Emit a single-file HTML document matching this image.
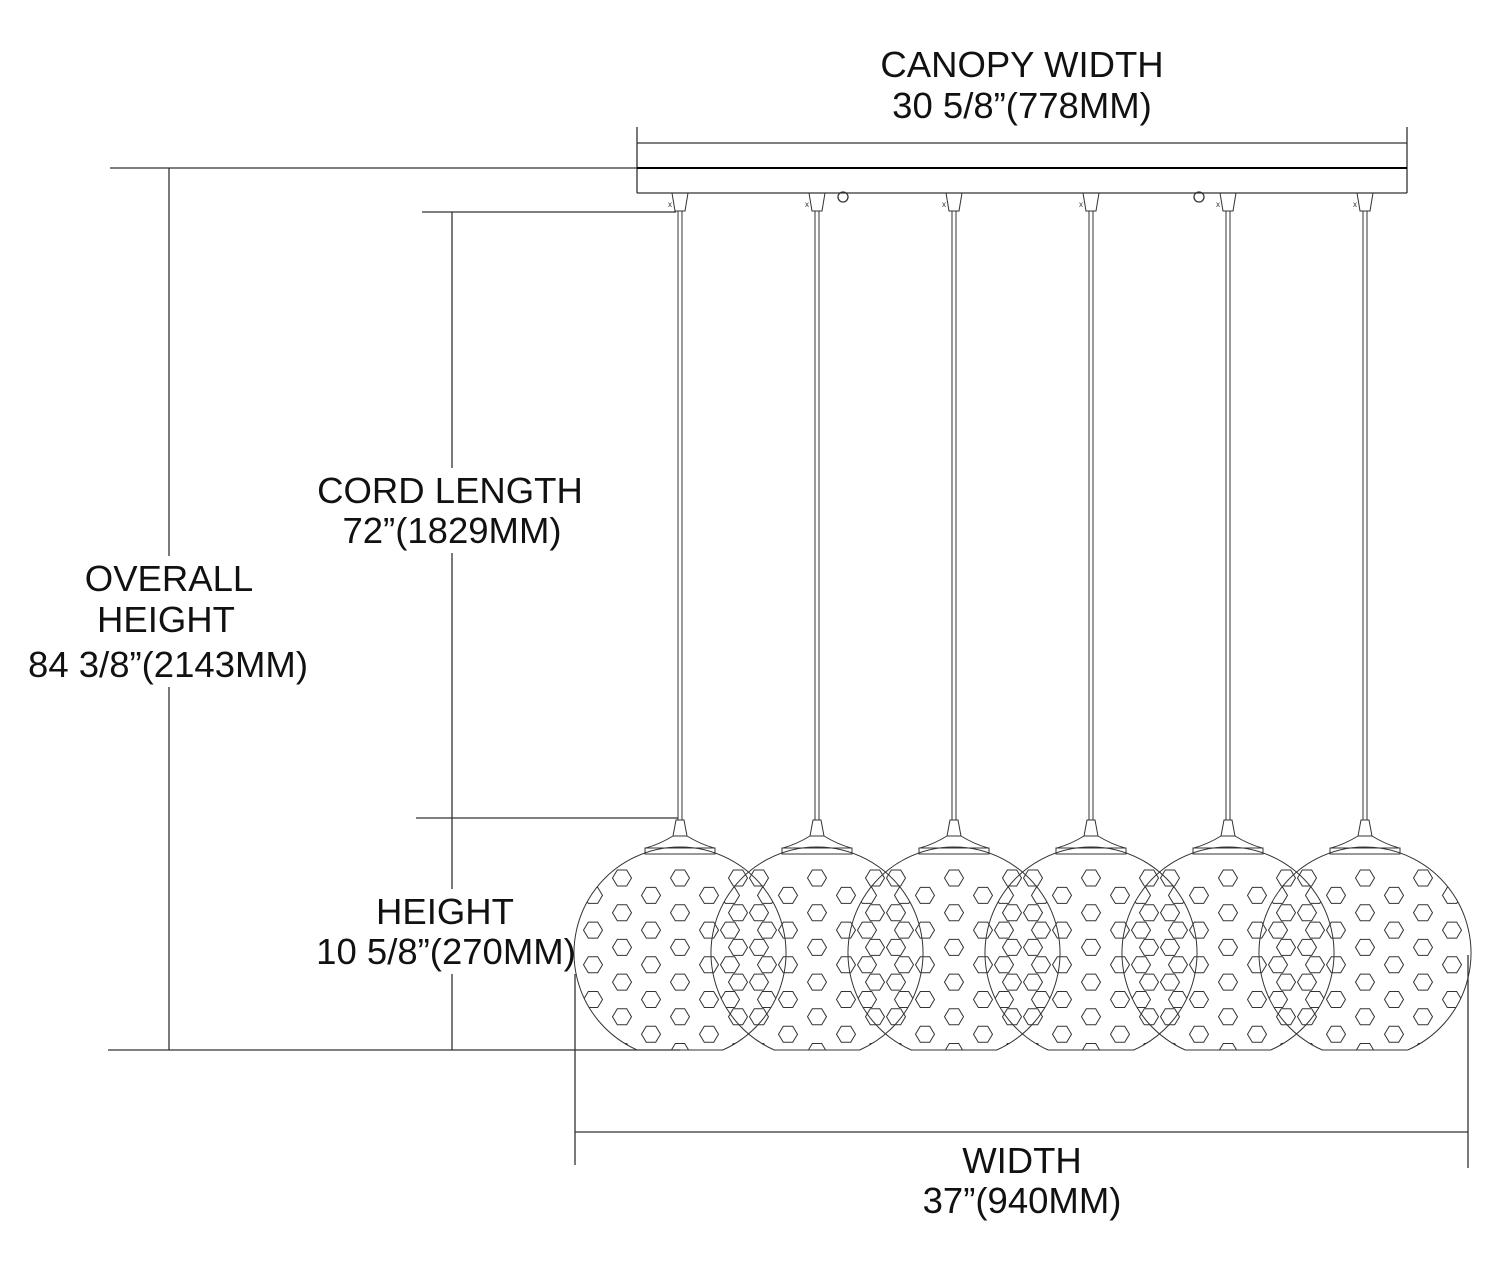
<!DOCTYPE html>
<html><head><meta charset="utf-8"><style>
html,body{margin:0;padding:0;background:#fff;}
svg{display:block}
text.t{font-family:"Liberation Sans",sans-serif;font-size:36.5px;fill:#111;text-anchor:middle}
</style></head><body>
<svg id="s" width="1500" height="1273" viewBox="0 0 1500 1273" xmlns="http://www.w3.org/2000/svg">
<defs></defs>
<g stroke="#333" stroke-width="1.3" fill="none">
<line x1="637" y1="127" x2="637" y2="193"/>
<line x1="1407" y1="127" x2="1407" y2="193"/>
<line x1="637" y1="143" x2="1407" y2="143"/>
<line x1="637" y1="193" x2="1407" y2="193"/>
<line x1="637" y1="168" x2="1407" y2="168" stroke="#000" stroke-width="2"/>
<line x1="110" y1="168" x2="637" y2="168"/>
<line x1="169" y1="168" x2="169" y2="1050"/>
<line x1="108" y1="1050" x2="680" y2="1050"/>
<line x1="422" y1="212" x2="676" y2="212"/>
<line x1="452" y1="212" x2="452" y2="1050"/>
<line x1="416" y1="818" x2="678" y2="818"/>
<line x1="575" y1="955" x2="575" y2="1165"/>
<line x1="1468" y1="955" x2="1468" y2="1168"/>
<line x1="575" y1="1132" x2="1468" y2="1132"/>
<circle cx="843" cy="197" r="5"/>
<circle cx="1199" cy="197" r="5"/>
</g>
<g id="bg" fill="#fff"></g>
<g id="lamps" stroke="#333" stroke-width="1" fill="none"></g>
<g id="txt">
<text class="t" x="1022" y="77">CANOPY WIDTH</text>
<text class="t" x="1022" y="118">30 5/8”(778MM)</text>
<text class="t" x="450" y="503">CORD LENGTH</text>
<text class="t" x="452" y="543">72”(1829MM)</text>
<text class="t" x="169" y="591">OVERALL</text>
<text class="t" x="166" y="632">HEIGHT</text>
<text class="t" x="168" y="677">84 3/8”(2143MM)</text>
<text class="t" x="445" y="924">HEIGHT</text>
<text class="t" x="446" y="964">10 5/8”(270MM)</text>
<text class="t" x="1022" y="1173">WIDTH</text>
<text class="t" x="1022" y="1213">37”(940MM)</text>
</g>
</svg>
<script>
var NS="http://www.w3.org/2000/svg",g=document.getElementById("lamps"),defs=document.querySelector("defs");
function el(t,a,p){var e=document.createElementNS(NS,t);for(var k in a)e.setAttribute(k,a[k]);(p||g).appendChild(e);return e;}
var bg=document.getElementById("bg");
document.querySelectorAll("#txt text").forEach(function(t){var b=t.getBBox();el("rect",{x:b.x-2,y:b.y-2,width:b.width+4,height:b.height+4},bg);});
var R=106,CY=953;
for(var i=0;i<6;i++){
 var cx=680+i*137;
 el("path",{d:"M"+(cx-8)+" 193 L"+(cx-5)+" 211 L"+(cx+5)+" 211 L"+(cx+8)+" 193"});
 el("text",{x:cx-12,y:207,style:"font-size:8px;fill:#333;stroke:none;font-family:'Liberation Sans'"}).textContent="x";
 el("line",{x1:cx-2,y1:211,x2:cx-2,y2:820});
 el("line",{x1:cx+2,y1:211,x2:cx+2,y2:820});
 el("path",{d:"M"+(cx-4)+" 820 L"+(cx-7)+" 836 Q"+(cx-20)+" 844 "+(cx-34)+" 848 L"+(cx+34)+" 848 Q"+(cx+20)+" 844 "+(cx+7)+" 836 L"+(cx+4)+" 820 Z"});
 el("line",{x1:cx-7,y1:836,x2:cx+7,y2:836});
 el("rect",{x:cx-35,y:848,width:70,height:6});
 var dy=1050-CY,dx=Math.sqrt(R*R-dy*dy);
 var bot="M"+(cx-dx)+" 1050 A"+R+" "+R+" 0 1 1 "+(cx+dx)+" 1050 Z";
 el("path",{d:bot});
 var cp=el("clipPath",{id:"c"+i},defs);
 el("path",{d:bot},cp);
 var hg=el("g",{"clip-path":"url(#c"+i+")"});
 var d="";
 for(var c=-4;c<=4;c++){
  var x=cx+c*29, off=(Math.abs(c)%2==1)?-17.3:0;
  for(var r=-1;r<=6;r++){
   var y=878+r*34.7+off;
   if(y<862)continue;
   d+="M"+(x-9.5)+" "+y+" L"+(x-4.7)+" "+(y-8)+" L"+(x+4.7)+" "+(y-8)+" L"+(x+9.5)+" "+y+" L"+(x+4.7)+" "+(y+8)+" L"+(x-4.7)+" "+(y+8)+" Z";
  }
 }
 el("path",{d:d},hg);
}
</script>
</body></html>
